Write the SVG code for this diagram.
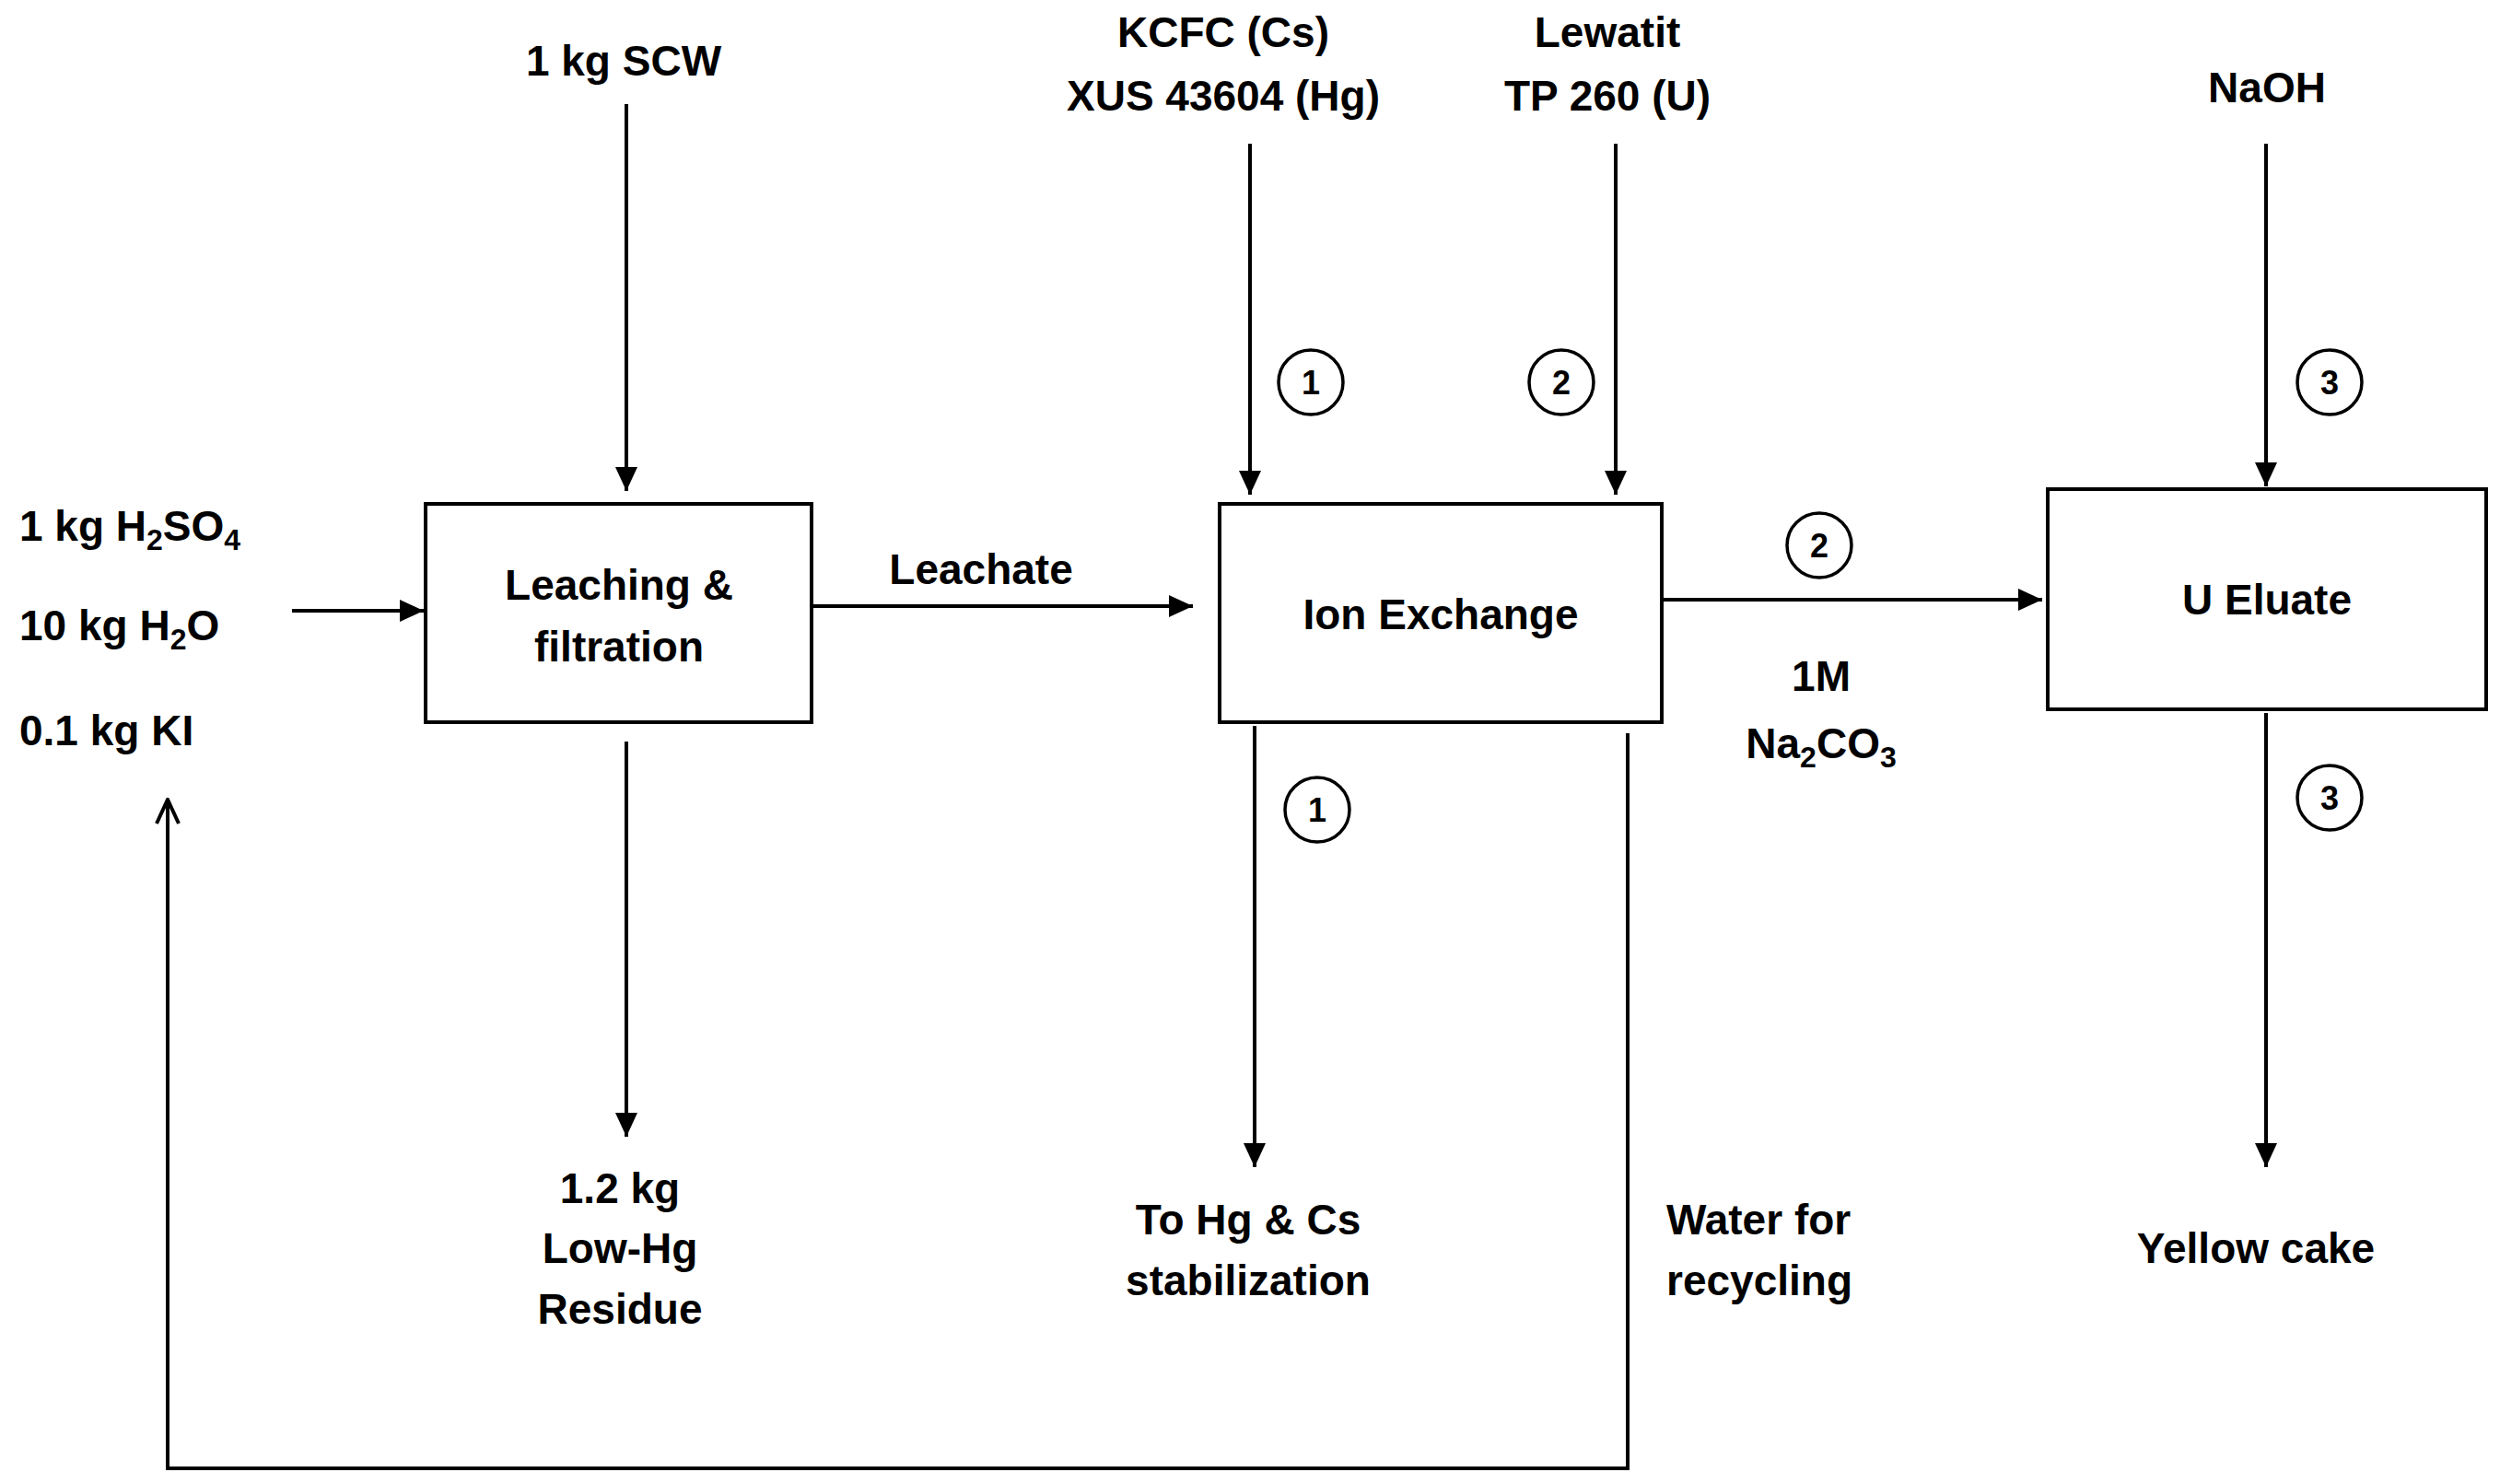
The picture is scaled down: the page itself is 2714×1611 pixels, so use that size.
<svg xmlns="http://www.w3.org/2000/svg" width="2714" height="1611" viewBox="0 0 2714 1611">
<style>
text{font-family:"Liberation Sans",Arial,sans-serif;font-weight:bold;font-size:46px;fill:#000}
.c{text-anchor:middle}
.n{font-size:36px;text-anchor:middle}
.box{fill:#fff;stroke:#000;stroke-width:4}
.ln{stroke:#000;stroke-width:4;fill:none}
.circ{fill:#fff;stroke:#000;stroke-width:3.5}
</style>
<defs>
<marker id="a" markerWidth="10" markerHeight="10" refX="9" refY="5" orient="auto" markerUnits="userSpaceOnUse" viewBox="0 0 10 10">
<path d="M0,0 L10,5 L0,10 z" fill="#000"/></marker>
<marker id="ar" markerWidth="28" markerHeight="24" refX="26" refY="12" orient="auto" markerUnits="userSpaceOnUse">
<path d="M0,0 L26,12 L0,24 z" fill="#000"/></marker>
<marker id="o" markerWidth="30" markerHeight="30" refX="28" refY="15" orient="auto" markerUnits="userSpaceOnUse">
<path d="M2,3 L28,15 L2,27" fill="none" stroke="#000" stroke-width="4"/></marker>
</defs>
<g id="connectors">
<line class="ln" x1="680" y1="113" x2="680" y2="533" marker-end="url(#ar)"/>
<line class="ln" x1="317" y1="663" x2="460" y2="663" marker-end="url(#ar)"/>
<line class="ln" x1="883" y1="658" x2="1295" y2="658" marker-end="url(#ar)"/>
<line class="ln" x1="1357" y1="156" x2="1357" y2="537" marker-end="url(#ar)"/>
<line class="ln" x1="1754" y1="156" x2="1754" y2="537" marker-end="url(#ar)"/>
<line class="ln" x1="2460" y1="156" x2="2460" y2="528" marker-end="url(#ar)"/>
<line class="ln" x1="1804" y1="651" x2="2217" y2="651" marker-end="url(#ar)"/>
<line class="ln" x1="2460" y1="774" x2="2460" y2="1267" marker-end="url(#ar)"/>
<line class="ln" x1="1362" y1="788" x2="1362" y2="1267" marker-end="url(#ar)"/>
<line class="ln" x1="680" y1="805" x2="680" y2="1234" marker-end="url(#ar)"/>
<polyline class="ln" points="1767,796 1767,1594 182,1594 182,868" marker-end="url(#o)"/>
</g>
<g id="leaching"><rect class="box" x="462" y="547" width="419" height="237"/>
<text class="c" x="672" y="651">Leaching &amp;</text><text class="c" x="672" y="718">filtration</text></g>
<g id="ionexchange"><rect class="box" x="1324" y="547" width="480" height="237"/>
<text class="c" x="1564" y="683">Ion Exchange</text></g>
<g id="ueluate"><rect class="box" x="2223" y="531" width="476" height="239"/>
<text class="c" x="2461" y="667">U Eluate</text></g>
<g id="labels">
<text class="c" x="677" y="82">1 kg SCW</text>
<text x="21" y="587">1 kg H<tspan font-size="32" dy="10">2</tspan><tspan dy="-10">SO</tspan><tspan font-size="32" dy="10">4</tspan></text>
<text x="21" y="695">10 kg H<tspan font-size="32" dy="10">2</tspan><tspan dy="-10">O</tspan></text>
<text x="21" y="809">0.1 kg KI</text>
<text class="c" x="1065" y="634">Leachate</text>
<text class="c" x="1328" y="51">KCFC (Cs)</text>
<text class="c" x="1328" y="120">XUS 43604 (Hg)</text>
<text class="c" x="1745" y="51">Lewatit</text>
<text class="c" x="1745" y="120">TP 260 (U)</text>
<text class="c" x="2461" y="111">NaOH</text>
<text class="c" x="1977" y="750">1M</text>
<text class="c" x="1977" y="823">Na<tspan font-size="32" dy="10">2</tspan><tspan dy="-10">CO</tspan><tspan font-size="32" dy="10">3</tspan></text>
<text class="c" x="2449" y="1371">Yellow cake</text>
<text class="c" x="1355" y="1340">To Hg &amp; Cs</text>
<text class="c" x="1355" y="1406">stabilization</text>
<text class="c" x="673" y="1306">1.2 kg</text>
<text class="c" x="673" y="1371">Low-Hg</text>
<text class="c" x="673" y="1437">Residue</text>
<text x="1809" y="1340">Water for</text>
<text x="1809" y="1406">recycling</text>
</g>
<g id="markers">
<circle class="circ" cx="1423" cy="415" r="35"/><text class="n" x="1423" y="428">1</text>
<circle class="circ" cx="1695" cy="415" r="35"/><text class="n" x="1695" y="428">2</text>
<circle class="circ" cx="2529" cy="415" r="35"/><text class="n" x="2529" y="428">3</text>
<circle class="circ" cx="1975" cy="592" r="35"/><text class="n" x="1975" y="605">2</text>
<circle class="circ" cx="1430" cy="879" r="35"/><text class="n" x="1430" y="892">1</text>
<circle class="circ" cx="2529" cy="866" r="35"/><text class="n" x="2529" y="879">3</text>
</g>
</svg>
